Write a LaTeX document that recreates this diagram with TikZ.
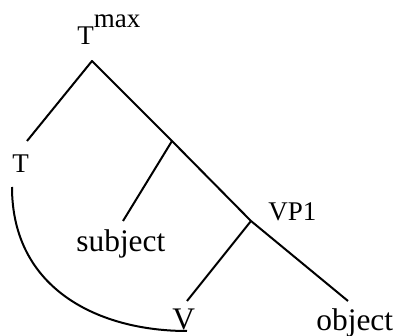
\documentclass[tikz,border=0pt]{standalone}
\usepackage{fontspec}
\setmainfont{Liberation Serif}
\begin{document}
\begin{tikzpicture}[
    x=0.5pt, y=-0.5pt,
    big/.style={anchor=base west, inner sep=0pt, font=\fontsize{15.7}{18}\selectfont},
    small/.style={anchor=base west, inner sep=0pt, font=\fontsize{13.5}{16}\selectfont},
    branch/.style={line width=1pt, line join=round}
  ]
  \useasboundingbox (0,0) rectangle (397,336);
  % labels
  \node[small] (tmax) at (77,45) {T\raisebox{8.5pt}{max}};
  \node[small] (t) at (12,173) {T};
  \node[big] (subject) at (76,252) {subject};
  \node[small] (vpone) at (268,221) {VP1};
  \node[big] (v) at (172,330) {V};
  \node[big] (object) at (316,331) {object};
  % branch points
  \coordinate (top) at (92,61);
  \coordinate (tfoot) at (27,141);
  \coordinate (tbar) at (172,141);
  \coordinate (subjfoot) at (123,221);
  \coordinate (vpnode) at (251,221);
  \coordinate (vfoot) at (187,301);
  \coordinate (objfoot) at (348,301);
  \coordinate (movestart) at (12,187);
  \coordinate (moveend) at (187,331);

  \draw[branch] (tfoot) -- (top) -- (tbar) -- (vpnode) -- (objfoot);
  \draw[branch] (tbar) -- (subjfoot);
  \draw[branch] (vpnode) -- (vfoot);
  % head movement
  \draw[branch] (movestart) .. controls (12,290) and (100,331) .. (moveend);
\end{tikzpicture}
\end{document}
